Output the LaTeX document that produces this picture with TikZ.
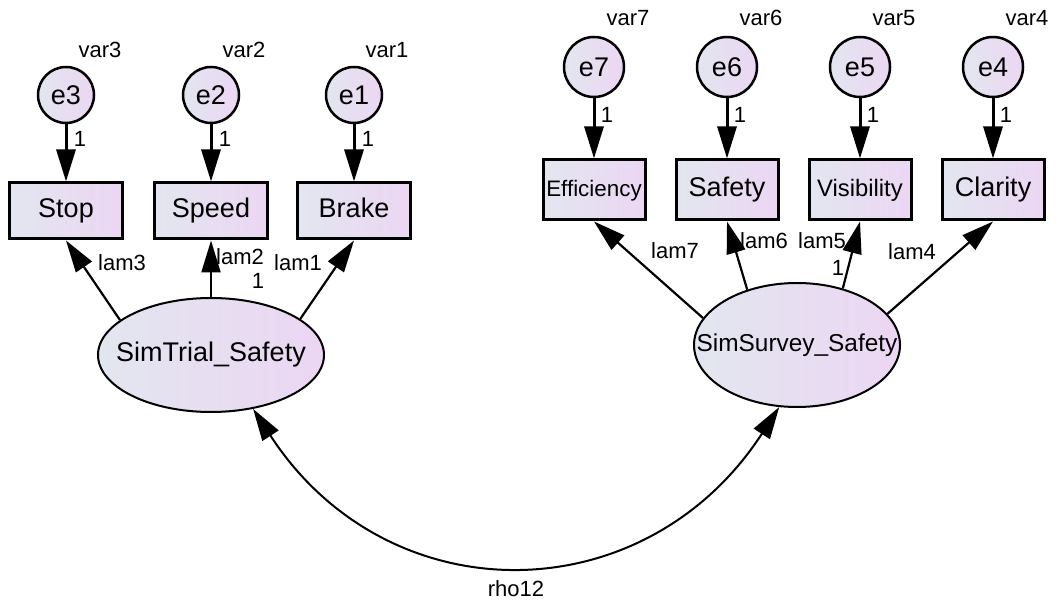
\documentclass[tikz,border=0pt]{standalone}
\usepackage{fontspec}
\setmainfont{Liberation Sans}
\usetikzlibrary{arrows, arrows.meta, shapes.geometric}

\begin{document}
\begin{tikzpicture}[x=1pt, y=1pt,
  big/.style={font=\fontsize{27}{32}\selectfont},
  small/.style={font=\fontsize{22}{26}\selectfont, inner sep=0pt},
  grad/.style={left color={rgb,255:red,226;green,230;blue,239}, right color={rgb,255:red,236;green,214;blue,243}},
  err/.style={circle, draw, line width=2.5pt, minimum size=56pt, inner sep=0pt, grad, big},
  obs/.style={rectangle, draw, line width=3pt, minimum width=113pt, minimum height=56pt, inner sep=0pt, text height=19pt, text depth=5pt, grad, big},
  robs/.style={obs, minimum width=102pt, minimum height=60pt},
  lat/.style={ellipse, draw, line width=2pt, inner sep=0pt, grad, big},
  arr/.style={-{Triangle[length=32pt, width=19pt]}, line width=3pt},
  lam/.style={-{Triangle[length=32pt, width=19pt]}, line width=2.2pt},
  cov/.style={{Triangle[length=32pt, width=19pt]}-{Triangle[length=32pt, width=19pt]}, line width=2pt}
]
\useasboundingbox (0,0) rectangle (1059,602);

%Error terms
\node[err] (e3) at (66,507){e3};
\node[err] (e2) at (211,507){e2};
\node[err] (e1) at (354,507){e1};
\node[err, minimum size=60pt] (e7) at (594,535){e7};
\node[err, minimum size=60pt] (e6) at (727,535){e6};
\node[err, minimum size=60pt] (e5) at (860,535){e5};
\node[err, minimum size=60pt] (e4) at (993,535){e4};

%Variance labels
\node[small] (var3) at (100,552){var3};
\node[small] (var2) at (244,552){var2};
\node[small] (var1) at (387,552){var1};
\node[small] (var7) at (628,584){var7};
\node[small] (var6) at (761,584){var6};
\node[small] (var5) at (894,584){var5};
\node[small] (var4) at (1027,584){var4};

%Observed variables
\node[obs] (stop) at (66,391){Stop};
\node[obs] (speed) at (211,391){Speed};
\node[obs] (brake) at (354,391){Brake};
\node[robs, font=\fontsize{22.4}{26}\selectfont] (eff) at (594,412){Efficiency};
\node[robs] (safety) at (727,412){Safety};
\node[robs, font=\fontsize{23.8}{28}\selectfont] (vis) at (860,412){Visibility};
\node[robs] (clar) at (993,412){Clarity};

%Latent variables
\node[lat, minimum width=226pt, minimum height=114pt] (trial) at (211,247){\makebox[0pt]{SimTrial\_Safety}};
\node[lat, minimum width=206pt, minimum height=124pt, font=\fontsize{24.4}{28}\selectfont] (survey) at (797,257){\makebox[0pt]{SimSurvey\_Safety}};

%Error paths
\draw[arr] (e3) -- (stop);
\draw[arr] (e2) -- (speed);
\draw[arr] (e1) -- (brake);
\draw[arr] (e7) -- (eff);
\draw[arr] (e6) -- (safety);
\draw[arr] (e5) -- (vis);
\draw[arr] (e4) -- (clar);
\node[small] (one3) at (80,463){1};
\node[small] (one2) at (225,463){1};
\node[small] (one1) at (368,463){1};
\node[small] (one7) at (607,487){1};
\node[small] (one6) at (740,487){1};
\node[small] (one5) at (873,487){1};
\node[small] (one4) at (1006,487){1};

%Loadings
\draw[lam] (trial.159) -- (stop.south);
\draw[lam] (trial.north) -- (speed.south);
\draw[lam] (trial.22) -- (brake.south);
\draw[lam] (survey.164) -- (eff.south);
\draw[lam] (survey.132) -- (safety.south);
\draw[lam] (survey.51) -- (vis.south);
\draw[lam] (survey.19) -- (clar.south);
\node[small] (lam3) at (122,339){lam3};
\node[small] (lam2) at (240,345){lam2};
\node[small] (fix2) at (258,321){1};
\node[small] (lam1) at (298,339){lam1};
\node[small] (lam7) at (675,351){lam7};
\node[small] (lam6) at (764,361){lam6};
\node[small] (lam5) at (822,361){lam5};
\node[small] (fix5) at (838,334){1};
\node[small] (lam4) at (912,350){lam4};

%Covariance
\draw[cov] (trial.-52) to[out=-57, in=-123, looseness=1.2] (survey.-106);
\node[small] (rho12) at (516,13){rho12};

\end{tikzpicture}
\end{document}
